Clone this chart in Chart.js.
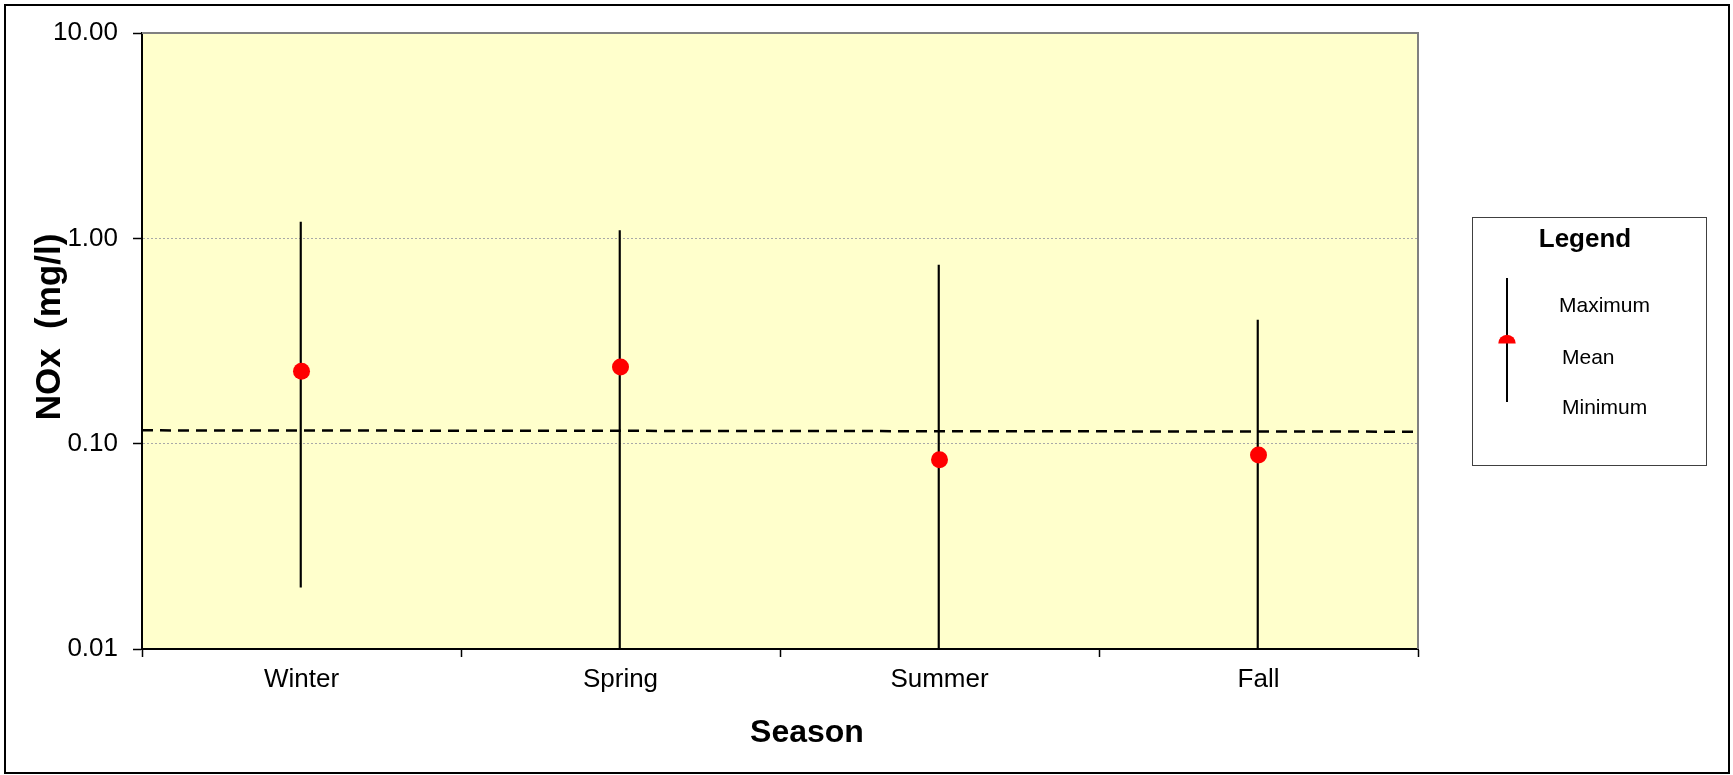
<!DOCTYPE html>
<html>
<head>
<meta charset="utf-8">
<script src="https://cdn.jsdelivr.net/npm/chart.js@4/dist/chart.umd.min.js"></script>
<style>
  html, body { margin: 0; padding: 0; background: #fff; }
  canvas { display: block; }
</style>
</head>
<body>
<canvas id="chart" width="1733" height="775"></canvas>
<script>
// Seasonal NOx summary: range (min–max), mean, and overall trend line
const seasons = ['Winter', 'Spring', 'Summer', 'Fall'];
const maxima = [1.2, 1.09, 0.74, 0.40];
const means = [0.225, 0.236, 0.0836, 0.088];
const minima = [0.02, 0.01, 0.01, 0.01];
const trendEnds = [0.1161, 0.1144];
const yTickValues = [0.01, 0.1, 1, 10];
const legendTitle = 'Legend';
const legendLabels = ['Maximum', 'Mean', 'Minimum'];
const xTitle = 'Season';
const yTitle = 'NOx  (mg/l)';

const FONT = "'Liberation Sans', Arial, Helvetica, sans-serif";
Chart.defaults.font.family = FONT;
Chart.defaults.color = '#000';

// Page frame, plot background, plot outline, axis titles and the legend box
const decorations = {
  id: 'decorations',
  beforeDraw(chart) {
    const { ctx, chartArea: a } = chart;
    ctx.save();
    ctx.fillStyle = '#ffffff';
    ctx.fillRect(0, 0, chart.width, chart.height);
    ctx.fillStyle = '#ffffcc';
    ctx.fillRect(a.left, a.top, a.right - a.left, a.bottom - a.top);
    ctx.restore();
  },
  afterDraw(chart) {
    const { ctx, chartArea: a } = chart;
    ctx.save();
    // grey top and right edges of the plot area
    ctx.strokeStyle = '#808080';
    ctx.lineWidth = 2;
    ctx.beginPath();
    ctx.moveTo(a.left, a.top);
    ctx.lineTo(a.right, a.top);
    ctx.lineTo(a.right, a.bottom);
    ctx.stroke();

    // outer frame
    ctx.strokeStyle = '#000';
    ctx.lineWidth = 2;
    ctx.strokeRect(5, 5, 1724, 768);

    // axis titles
    ctx.fillStyle = '#000';
    ctx.textAlign = 'center';
    ctx.textBaseline = 'middle';
    ctx.font = 'bold 32px ' + FONT;
    ctx.fillText(xTitle, 807, 733);
    ctx.save();
    ctx.translate(50, 327);
    ctx.rotate(-Math.PI / 2);
    ctx.font = 'bold 35px ' + FONT;
    ctx.fillText(yTitle, 0, 0);
    ctx.restore();

    // legend box
    ctx.strokeStyle = '#404040';
    ctx.lineWidth = 1;
    ctx.strokeRect(1472.5, 217.5, 234, 248);
    ctx.font = 'bold 26px ' + FONT;
    ctx.fillText(legendTitle, 1585, 240);

    ctx.strokeStyle = '#000';
    ctx.lineWidth = 2;
    ctx.beginPath();
    ctx.moveTo(1507, 278);
    ctx.lineTo(1507, 402);
    ctx.stroke();
    ctx.fillStyle = '#ff0000';
    ctx.beginPath();
    ctx.arc(1507, 343.5, 8.7, Math.PI, 0);
    ctx.closePath();
    ctx.fill();

    ctx.fillStyle = '#000';
    ctx.textAlign = 'left';
    ctx.font = '21px ' + FONT;
    ctx.fillText(legendLabels[0], 1559, 306);
    ctx.fillText(legendLabels[1], 1562, 358);
    ctx.fillText(legendLabels[2], 1562, 408);
    ctx.restore();
  }
};

new Chart(document.getElementById('chart'), {
  type: 'bar',
  data: {
    labels: seasons,
    datasets: [
      {
        type: 'line',
        label: 'Mean',
        data: means,
        showLine: false,
        pointRadius: 8.5,
        pointBackgroundColor: '#ff0000',
        pointBorderColor: '#ff0000',
        pointBorderWidth: 0,
        order: 0
      },
      {
        type: 'line',
        label: 'Trend',
        xAxisID: 'xt',
        data: [{ x: -0.5, y: trendEnds[0] }, { x: 3.5, y: trendEnds[1] }],
        borderColor: '#000',
        borderWidth: 2.5,
        borderDash: [11, 7],
        pointRadius: 0,
        order: 1
      },
      {
        type: 'bar',
        label: 'Range',
        data: seasons.map((s, i) => [minima[i], maxima[i]]),
        backgroundColor: '#000',
        barThickness: 1.5,
        order: 2
      }
    ]
  },
  options: {
    responsive: false,
    animation: false,
    events: [],
    layout: { padding: { top: 33, right: 315, left: 0, bottom: 0 } },
    plugins: { legend: { display: false }, tooltip: { enabled: false } },
    scales: {
      x: {
        type: 'category',
        offset: true,
        grid: {
          offset: true,
          drawOnChartArea: false,
          drawTicks: true,
          tickLength: 8,
          tickColor: '#000',
          tickWidth: 1.5
        },
        border: { color: '#000', width: 2 },
        ticks: { font: { size: 26 }, color: '#000', padding: 7, maxRotation: 0 },
        afterFit(scale) { scale.height = 126; }
      },
      xt: { type: 'linear', display: false, offset: false, min: -0.5, max: 3.5, grid: { offset: false } },
      y: {
        type: 'logarithmic',
        min: 0.01,
        max: 10,
        afterBuildTicks(scale) { scale.ticks = yTickValues.map(v => ({ value: v })); },
        ticks: {
          callback: (v) => Number(v).toFixed(2),
          font: { size: 26 },
          color: '#000',
          padding: 15
        },
        grid: {
          color: (c) => (c.tick && (c.tick.value === 0.1 || c.tick.value === 1)) ? '#a8a8a8' : 'transparent',
          lineWidth: 1,
          drawTicks: true,
          tickLength: 9,
          tickColor: '#000',
          tickWidth: 1.5
        },
        border: { color: '#000', width: 2, dash: [2, 2] },
        afterFit(scale) { scale.width = 142; }
      }
    }
  },
  plugins: [decorations]
});
</script>
</body>
</html>
